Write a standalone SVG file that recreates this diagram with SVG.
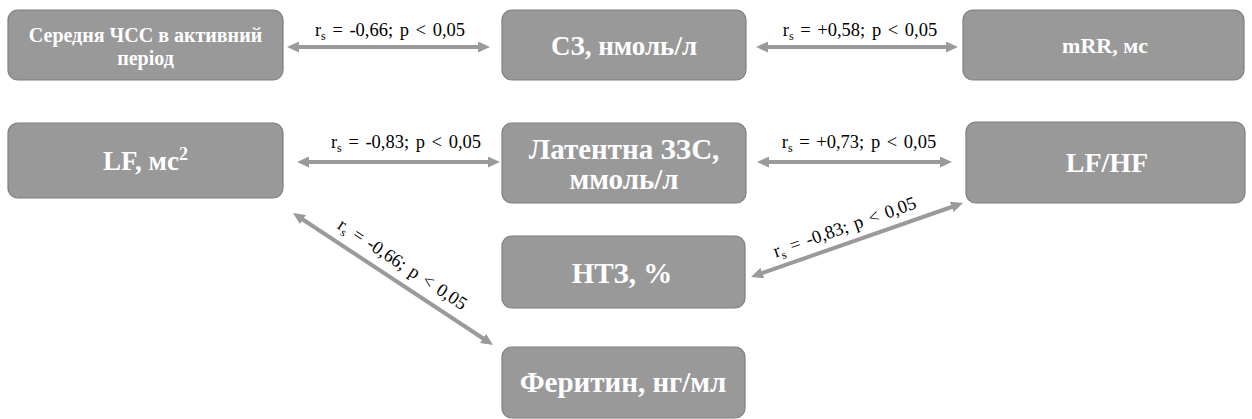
<svg xmlns="http://www.w3.org/2000/svg" width="1252" height="419" viewBox="0 0 1252 419">
<style>
.box{fill:#999999;stroke:#7f7f7f;stroke-width:1.2}
.nt{font-family:"Liberation Serif","Times New Roman",serif;font-weight:bold;fill:#ffffff;text-anchor:middle}
.big{font-size:28px}
.lbl{font-family:"Liberation Serif","Times New Roman",serif;font-size:18.5px;word-spacing:2px;fill:#000000;text-anchor:middle}
.sub{font-size:12px}
.con{stroke:#9a9a9a;stroke-width:4;fill:none;marker-start:url(#ah);marker-end:url(#ah)}
</style>
<defs>
<marker id="ah" viewBox="0 0 12 11" refX="3" refY="5.5" markerWidth="12" markerHeight="11" markerUnits="userSpaceOnUse" orient="auto-start-reverse">
<path d="M0,0 L12,5.5 L0,11 z" fill="#9a9a9a"/>
</marker>
</defs>
<g id="connectors">
<line class="con" x1="296" y1="47" x2="481" y2="47"/>
<line class="con" x1="765" y1="47" x2="949" y2="47"/>
<line class="con" x1="306" y1="162" x2="491" y2="162"/>
<line class="con" x1="766" y1="162" x2="943" y2="162"/>
<line class="con" x1="300.5" y1="218" x2="485.5" y2="340"/>
<line class="con" x1="759.5" y1="274" x2="954.5" y2="206"/>
<text class="lbl" x="390" y="36">r<tspan class="sub" dy="4">s</tspan><tspan dy="-4"> = -0,66; p &lt; 0,05</tspan></text>
<text class="lbl" x="860" y="36">r<tspan class="sub" dy="4">s</tspan><tspan dy="-4"> = +0,58; p &lt; 0,05</tspan></text>
<text class="lbl" x="406" y="148">r<tspan class="sub" dy="4">s</tspan><tspan dy="-4"> = -0,83; p &lt; 0,05</tspan></text>
<text class="lbl" x="859" y="148">r<tspan class="sub" dy="4">s</tspan><tspan dy="-4"> = +0,73; p &lt; 0,05</tspan></text>
<text class="lbl" transform="translate(402,265) rotate(33.4)" x="0" y="5">r<tspan class="sub" dy="4">s</tspan><tspan dy="-4"> = -0,66; p &lt; 0,05</tspan></text>
<text class="lbl" transform="translate(845,228) rotate(-19.2)" x="0" y="5">r<tspan class="sub" dy="4">s</tspan><tspan dy="-4"> = -0,83; p &lt; 0,05</tspan></text>
</g>
<g id="node-chss">
<rect class="box" x="8" y="10" width="275" height="70" rx="10"/>
<text class="nt" x="145.5" y="42" font-size="20">Середня ЧСС в активний</text>
<text class="nt" x="145.5" y="65" font-size="20">період</text>
</g>
<g id="node-sz">
<rect class="box" x="502" y="10" width="244" height="70" rx="10"/>
<text class="nt" x="624" y="55" font-size="27">СЗ, нмоль/л</text>
</g>
<g id="node-mrr">
<rect class="box" x="963" y="10" width="281" height="70" rx="10"/>
<text class="nt" x="1105" y="53" font-size="22">mRR, мс</text>
</g>
<g id="node-lf">
<rect class="box" x="8" y="123" width="275" height="75" rx="10"/>
<text class="nt" x="145.5" y="170" font-size="27">LF, мс<tspan font-size="18" dy="-10">2</tspan></text>
</g>
<g id="node-zzs">
<rect class="box" x="502" y="123" width="244" height="80" rx="10"/>
<text class="nt" x="624" y="159" font-size="29">Латентна ЗЗС,</text>
<text class="nt" x="624" y="189" font-size="29">ммоль/л</text>
</g>
<g id="node-lfhf">
<rect class="box" x="966" y="122" width="279" height="81" rx="10"/>
<text class="nt big" x="1107" y="172">LF/HF</text>
</g>
<g id="node-ntz">
<rect class="box" x="502" y="236" width="243" height="72" rx="10"/>
<text class="nt" x="622" y="283" font-size="29">НТЗ, %</text>
</g>
<g id="node-ferritin">
<rect class="box" x="502" y="347" width="243" height="71" rx="10"/>
<text class="nt" x="623" y="392" font-size="29">Феритин, нг/мл</text>
</g>
</svg>
